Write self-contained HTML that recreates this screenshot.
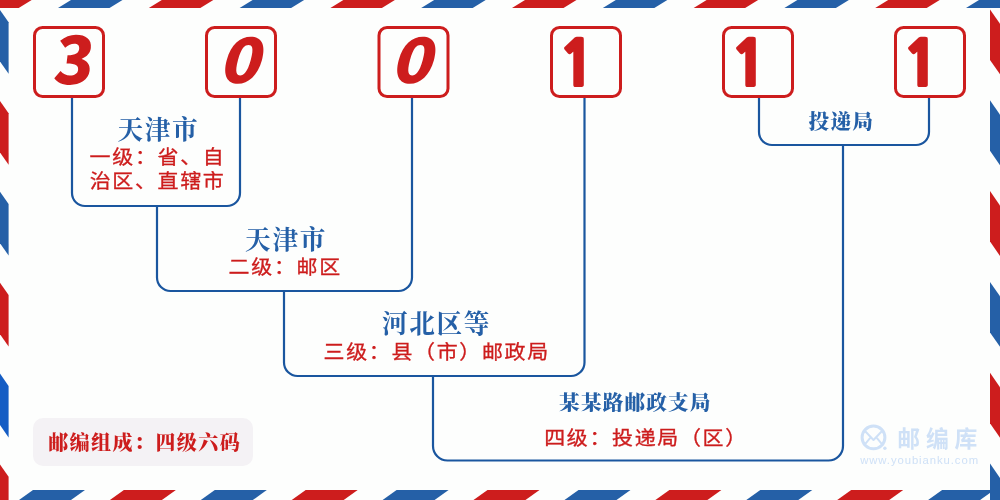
<!DOCTYPE html>
<html lang="zh-CN">
<head>
<meta charset="utf-8">
<title>300111 邮编组成</title>
<style>
html,body{margin:0;padding:0;background:#fdfefd;}
body{width:1000px;height:500px;overflow:hidden;position:relative;}
svg{position:absolute;left:0;top:0;display:block;will-change:transform;}
.ti{font-family:"Liberation Serif","Noto Serif CJK SC",serif;font-weight:700;fill:#2560a7;text-anchor:middle;}
.rd{font-family:"Liberation Sans","Noto Sans CJK SC",sans-serif;font-weight:400;fill:#cd1d1d;stroke:#cd1d1d;stroke-width:0.35px;text-anchor:middle;font-size:21px;letter-spacing:1.65px;}
.dg{fill:#cd1d1d;}
.dgi{font-family:"Noto Sans CJK SC","Liberation Sans",sans-serif;font-weight:900;font-style:italic;}
.dgu{font-family:"Noto Sans CJK SC","Liberation Sans",sans-serif;font-weight:900;}
.dg1{font-family:"NanumGothic","Liberation Sans",sans-serif;font-weight:800;stroke:#cd1d1d;stroke-width:2px;stroke-linejoin:round;}
.lb{font-family:"Liberation Serif","Noto Serif CJK SC",serif;font-weight:900;fill:#cd1d1d;font-size:20px;letter-spacing:1.45px;text-anchor:middle;}
.wm{font-family:"Liberation Sans","Noto Sans CJK SC",sans-serif;fill:#cfe1f7;}
</style>
</head>
<body>
<svg width="1000" height="500" viewBox="0 0 1000 500">
<polygon points="-32.8,8.0 -19.8,0.0 31.7,0.0 18.7,8.0" fill="#cd1d1d"/>
<polygon points="58.0,8.0 71.0,0.0 122.5,0.0 109.5,8.0" fill="#2560a7"/>
<polygon points="148.8,8.0 161.8,0.0 213.3,0.0 200.3,8.0" fill="#cd1d1d"/>
<polygon points="239.6,8.0 252.6,0.0 304.1,0.0 291.1,8.0" fill="#2560a7"/>
<polygon points="330.4,8.0 343.4,0.0 394.9,0.0 381.9,8.0" fill="#cd1d1d"/>
<polygon points="421.2,8.0 434.2,0.0 485.7,0.0 472.7,8.0" fill="#2560a7"/>
<polygon points="512.0,8.0 525.0,0.0 576.5,0.0 563.5,8.0" fill="#cd1d1d"/>
<polygon points="602.8,8.0 615.8,0.0 667.3,0.0 654.3,8.0" fill="#2560a7"/>
<polygon points="693.6,8.0 706.6,0.0 758.1,0.0 745.1,8.0" fill="#cd1d1d"/>
<polygon points="784.4,8.0 797.4,0.0 848.9,0.0 835.9,8.0" fill="#2560a7"/>
<polygon points="875.2,8.0 888.2,0.0 939.7,0.0 926.7,8.0" fill="#cd1d1d"/>
<polygon points="966.0,8.0 979.0,0.0 1030.5,0.0 1017.5,8.0" fill="#2560a7"/>
<polygon points="1056.8,8.0 1069.8,0.0 1121.3,0.0 1108.3,8.0" fill="#cd1d1d"/>
<polygon points="-57.9,490.0 -5.9,490.0 -19.9,500.0 -71.9,500.0" fill="#cd1d1d"/>
<polygon points="33.0,490.0 85.0,490.0 71.0,500.0 19.0,500.0" fill="#2560a7"/>
<polygon points="123.9,490.0 175.9,490.0 161.9,500.0 109.9,500.0" fill="#cd1d1d"/>
<polygon points="214.8,490.0 266.8,490.0 252.8,500.0 200.8,500.0" fill="#2560a7"/>
<polygon points="305.7,490.0 357.7,490.0 343.7,500.0 291.7,500.0" fill="#cd1d1d"/>
<polygon points="396.6,490.0 448.6,490.0 434.6,500.0 382.6,500.0" fill="#2560a7"/>
<polygon points="487.5,490.0 539.5,490.0 525.5,500.0 473.5,500.0" fill="#cd1d1d"/>
<polygon points="578.5,490.0 630.5,490.0 616.5,500.0 564.5,500.0" fill="#2560a7"/>
<polygon points="669.4,490.0 721.4,490.0 707.4,500.0 655.4,500.0" fill="#cd1d1d"/>
<polygon points="760.3,490.0 812.3,490.0 798.3,500.0 746.3,500.0" fill="#2560a7"/>
<polygon points="851.2,490.0 903.2,490.0 889.2,500.0 837.2,500.0" fill="#cd1d1d"/>
<polygon points="942.1,490.0 994.1,490.0 980.1,500.0 928.1,500.0" fill="#2560a7"/>
<polygon points="1033.0,490.0 1085.0,490.0 1071.0,500.0 1019.0,500.0" fill="#cd1d1d"/>
<polygon points="0.0,-80.9 8.6,-68.6 8.6,-17.1 0.0,-29.4" fill="#cd1d1d"/>
<polygon points="0.0,10.0 8.6,22.3 8.6,73.8 0.0,61.5" fill="#2560a7"/>
<polygon points="0.0,100.9 8.6,113.2 8.6,164.7 0.0,152.4" fill="#cd1d1d"/>
<polygon points="0.0,191.8 8.6,204.1 8.6,255.6 0.0,243.3" fill="#2560a7"/>
<polygon points="0.0,282.7 8.6,295.0 8.6,346.5 0.0,334.2" fill="#cd1d1d"/>
<polygon points="0.0,373.6 8.6,385.9 8.6,437.4 0.0,425.1" fill="#155dc4"/>
<polygon points="0.0,464.5 8.6,476.8 8.6,528.3 0.0,516.0" fill="#cd1d1d"/>
<polygon points="0.0,555.5 8.6,567.8 8.6,619.3 0.0,607.0" fill="#2560a7"/>
<polygon points="990.0,-81.4 1000.0,-67.0 1000.0,-16.5 990.0,-30.9" fill="#2560a7"/>
<polygon points="990.0,9.4 1000.0,23.8 1000.0,74.3 990.0,59.9" fill="#cd1d1d"/>
<polygon points="990.0,100.2 1000.0,114.7 1000.0,165.2 990.0,150.8" fill="#2560a7"/>
<polygon points="990.0,191.1 1000.0,205.5 1000.0,256.0 990.0,241.6" fill="#cd1d1d"/>
<polygon points="990.0,281.9 1000.0,296.3 1000.0,346.8 990.0,332.4" fill="#2560a7"/>
<polygon points="990.0,372.8 1000.0,387.2 1000.0,437.7 990.0,423.3" fill="#cd1d1d"/>
<polygon points="990.0,463.6 1000.0,478.0 1000.0,528.5 990.0,514.1" fill="#2560a7"/>
<polygon points="990.0,554.5 1000.0,568.9 1000.0,619.4 990.0,605.0" fill="#cd1d1d"/>

<g fill="none" stroke="#1a569f" stroke-width="2.2">
<path d="M72,98 V193 A13,13 0 0 0 85,206 H227 A13,13 0 0 0 240,193 V98"/>
<path d="M157,206 V277.5 A13.5,13.5 0 0 0 170.5,291 H398.5 A13.5,13.5 0 0 0 412,277.5 V98"/>
<path d="M284,291 V362.5 A13.5,13.5 0 0 0 297.5,376 H571.0 A13.5,13.5 0 0 0 584.5,362.5 V98"/>
<path d="M433,376 V446.0 A14.5,14.5 0 0 0 447.5,460.5 H828.5 A14.5,14.5 0 0 0 843,446.0 V145"/>
<path d="M759,98 V132 A13,13 0 0 0 772,145 H916 A13,13 0 0 0 929,132 V98"/>
</g>

<rect x="34.5" y="27.5" width="69" height="69" rx="8" ry="8" fill="none" stroke="#cd1d1d" stroke-width="3"/>
<rect x="206.5" y="27.5" width="69" height="69" rx="8" ry="8" fill="none" stroke="#cd1d1d" stroke-width="3"/>
<rect x="379.0" y="27.5" width="69" height="69" rx="8" ry="8" fill="none" stroke="#cd1d1d" stroke-width="3"/>
<rect x="551.5" y="27.5" width="69" height="69" rx="8" ry="8" fill="none" stroke="#cd1d1d" stroke-width="3"/>
<rect x="723.5" y="27.5" width="69" height="69" rx="8" ry="8" fill="none" stroke="#cd1d1d" stroke-width="3"/>
<rect x="895.5" y="27.5" width="69" height="69" rx="8" ry="8" fill="none" stroke="#cd1d1d" stroke-width="3"/>
<text transform="translate(52.0,84.4) scale(1.000,1.000) skewX(-7)" class="dg dgu" font-size="65">3</text>
<text transform="translate(217.8,83.0) scale(1.044,0.952)" class="dg dgi" font-size="64">0</text>
<text transform="translate(389.8,83.0) scale(1.044,0.952)" class="dg dgi" font-size="64">0</text>
<text transform="translate(558.5,86.0) scale(1.000,1.000)" class="dg dg1" font-size="62">1</text>
<text transform="translate(730.5,86.0) scale(1.000,1.000)" class="dg dg1" font-size="62">1</text>
<text transform="translate(902.5,86.0) scale(1.000,1.000)" class="dg dg1" font-size="62">1</text>
<text x="158.35" y="139.2" class="ti" font-size="25.6" letter-spacing="1.7">天津市</text>
<text transform="translate(157.5,163.7) scale(1,0.94)" class="rd">一级：省、自</text>
<text transform="translate(157.6,187.6) scale(1,0.94)" class="rd">治区、直辖市</text>
<text x="286.05" y="249.3" class="ti" font-size="25.6" letter-spacing="1.7">天津市</text>
<text transform="translate(285.2,274.1) scale(1,0.94)" class="rd">二级：邮区</text>
<text x="436.5" y="333.2" class="ti" font-size="25.6" letter-spacing="1.7">河北区等</text>
<text transform="translate(436.7,358.8) scale(1,0.94)" class="rd">三级：县（市）邮政局</text>
<text x="635.4" y="410.3" class="ti" font-size="20.6" letter-spacing="1.2" style="font-weight:900">某某路邮政支局</text>
<text transform="translate(646,444.5) scale(1,0.94)" class="rd">四级：投递局（区）</text>
<text x="841.4" y="128.7" class="ti" font-size="20.6" letter-spacing="1.3" style="font-weight:900">投递局</text>
<rect x="33" y="418" width="220" height="48" rx="10" ry="10" fill="#f4f2f5"/>
<text x="144.7" y="449.7" class="lb">邮编组成：四级六码</text>
<g fill="none" stroke="#cfe1f7" stroke-width="2.4" stroke-linecap="round" stroke-linejoin="round">
<circle cx="873.5" cy="437.4" r="11.4" stroke-width="3"/>
<path d="M864.5,430.5 L873.5,440 L882.5,430.5" stroke-width="2"/>
<path d="M864.5,444.8 L870,438.2 M882.5,444.8 L877,438.2" stroke-width="2"/>
</g>
<circle cx="884.9" cy="448.3" r="1.7" fill="#cfe1f7"/>
<text x="897.2" y="447.3" class="wm" font-size="22.8" letter-spacing="5.9" font-weight="700">邮编库</text>
<text x="860.2" y="464.2" class="wm" font-size="11.3" letter-spacing="0.93">www.youbianku.com</text>
</svg>
</body>
</html>
